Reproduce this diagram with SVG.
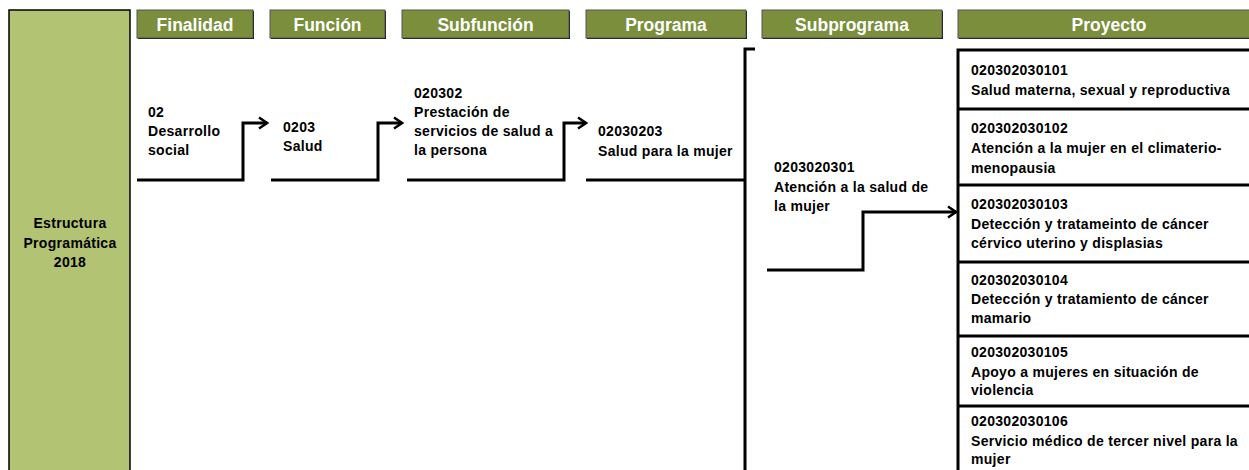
<svg xmlns="http://www.w3.org/2000/svg" width="1249" height="470" viewBox="0 0 1249 470">
<style>
.hdr{fill:#7A8E3C;stroke:#555;stroke-width:1}
.sh{fill:#000}
.ht{font-family:"Liberation Sans",Arial,sans-serif;font-weight:bold;font-size:17.5px;fill:#fff;text-anchor:middle}
.t{font-family:"Liberation Sans",Arial,sans-serif;font-weight:bold;font-size:14px;letter-spacing:0.3px;fill:#000}
.ln{fill:none;stroke:#000;stroke-width:3}
.row{stroke:#000;stroke-width:3}
</style>
<defs>
<marker id="arr" markerWidth="12" markerHeight="14" refX="10" refY="7" orient="auto" markerUnits="userSpaceOnUse">
<polyline points="2,1.5 10,7 2,12.5" fill="none" stroke="#000" stroke-width="2.5"/>
</marker>
</defs>
<rect width="1249" height="470" fill="#fff"/>
<g id="estructura">
<rect x="9" y="10" width="121" height="470" fill="#B3C374" stroke="#000" stroke-width="1.5"/>
<text class="t" text-anchor="middle" x="70" y="228">Estructura</text>
<text class="t" text-anchor="middle" x="70" y="248">Programática</text>
<text class="t" text-anchor="middle" x="70" y="267">2018</text>
</g>
<g id="h-finalidad"><rect class="sh" x="138" y="11" width="116" height="28"/><rect class="hdr" x="137" y="10" width="116" height="28"/><text class="ht" x="195" y="31">Finalidad</text></g>
<g id="h-funcion"><rect class="sh" x="271" y="11" width="115" height="28"/><rect class="hdr" x="270" y="10" width="115" height="28"/><text class="ht" x="327.5" y="31">Función</text></g>
<g id="h-subfuncion"><rect class="sh" x="403" y="11" width="167" height="28"/><rect class="hdr" x="402" y="10" width="167" height="28"/><text class="ht" x="485.5" y="31">Subfunción</text></g>
<g id="h-programa"><rect class="sh" x="587" y="11" width="160" height="28"/><rect class="hdr" x="586" y="10" width="160" height="28"/><text class="ht" x="666" y="31">Programa</text></g>
<g id="h-subprograma"><rect class="sh" x="763" y="11" width="180" height="28"/><rect class="hdr" x="762" y="10" width="180" height="28"/><text class="ht" x="852" y="31">Subprograma</text></g>
<g id="h-proyecto"><rect class="sh" x="959" y="11" width="300" height="28"/><rect class="hdr" x="958" y="10" width="300" height="28"/><text class="ht" x="1109" y="31">Proyecto</text></g>
<g id="connectors">
<polyline class="ln" points="137,180 243,180 243,123 267,123" marker-end="url(#arr)"/>
<polyline class="ln" points="271,180 378,180 378,123 402,123" marker-end="url(#arr)"/>
<polyline class="ln" points="407,180 564,180 564,123 586,123" marker-end="url(#arr)"/>
<line class="ln" x1="586" y1="180" x2="746" y2="180"/>
<polyline class="ln" points="755,49 745,49 745,470"/>
<polyline class="ln" points="767,270 863,270 863,212 956,212" marker-end="url(#arr)"/>
</g>
<g id="n-finalidad">
<text class="t" x="148" y="117">02</text>
<text class="t" x="148" y="136">Desarrollo</text>
<text class="t" x="148" y="155">social</text>
</g>
<g id="n-funcion">
<text class="t" x="283" y="132">0203</text>
<text class="t" x="283" y="151">Salud</text>
</g>
<g id="n-subfuncion">
<text class="t" x="414" y="98">020302</text>
<text class="t" x="414" y="117">Prestación de</text>
<text class="t" x="414" y="136">servicios de salud a</text>
<text class="t" x="414" y="155">la persona</text>
</g>
<g id="n-programa">
<text class="t" x="598" y="136">02030203</text>
<text class="t" x="598" y="156">Salud para la mujer</text>
</g>
<g id="n-subprograma">
<text class="t" x="774" y="172">0203020301</text>
<text class="t" x="774" y="192">Atención a la salud de</text>
<text class="t" x="774" y="211">la mujer</text>
</g>
<g id="proyectos">
<polyline class="ln" points="1249,50 958,50 958,470"/>
<line class="row" x1="958" y1="109" x2="1249" y2="109"/>
<line class="row" x1="958" y1="185" x2="1249" y2="185"/>
<line class="row" x1="958" y1="262" x2="1249" y2="262"/>
<line class="row" x1="958" y1="336" x2="1249" y2="336"/>
<line class="row" x1="958" y1="406" x2="1249" y2="406"/>
<g id="p1"><text class="t" x="971" y="75">020302030101</text><text class="t" x="971" y="95">Salud materna, sexual y reproductiva</text></g>
<g id="p2"><text class="t" x="971" y="133">020302030102</text><text class="t" x="971" y="153">Atención a la mujer en el climaterio-</text><text class="t" x="971" y="173">menopausia</text></g>
<g id="p3"><text class="t" x="971" y="209">020302030103</text><text class="t" x="971" y="229">Detección y tratameinto de cáncer</text><text class="t" x="971" y="248">cérvico uterino y displasias</text></g>
<g id="p4"><text class="t" x="971" y="285">020302030104</text><text class="t" x="971" y="304">Detección y tratamiento de cáncer</text><text class="t" x="971" y="323">mamario</text></g>
<g id="p5"><text class="t" x="971" y="357">020302030105</text><text class="t" x="971" y="377">Apoyo a mujeres en situación de</text><text class="t" x="971" y="395">violencia</text></g>
<g id="p6"><text class="t" x="971" y="426">020302030106</text><text class="t" x="971" y="446">Servicio médico de tercer nivel para la</text><text class="t" x="971" y="464">mujer</text></g>
</g>
</svg>
